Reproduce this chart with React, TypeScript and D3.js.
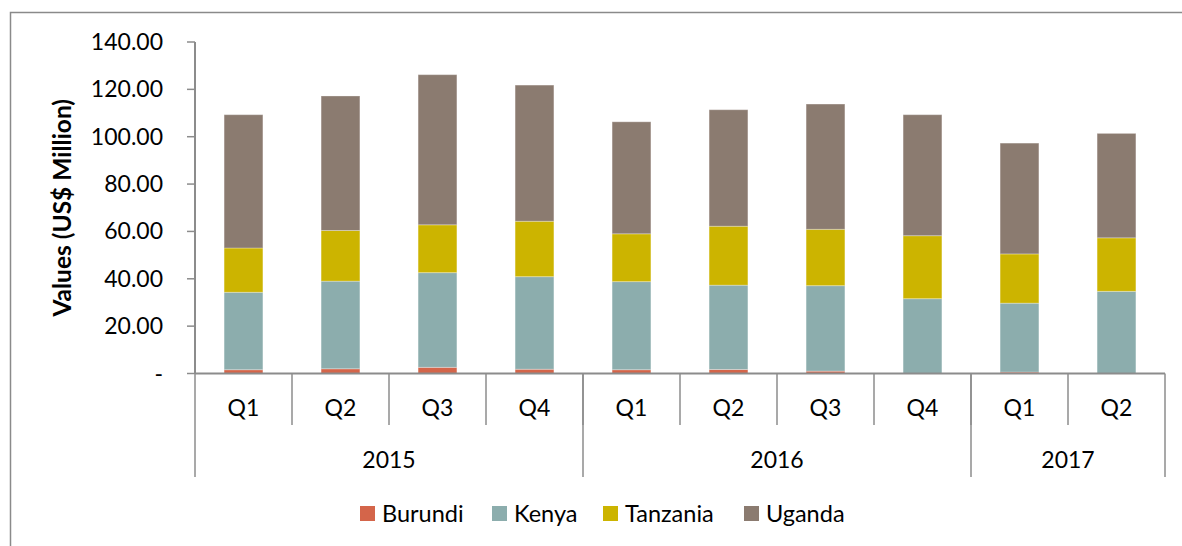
import React from "react";
import * as d3 from "d3";

const quarters = ["Q1", "Q2", "Q3", "Q4", "Q1", "Q2", "Q3", "Q4", "Q1", "Q2"];
const years = ["2015", "2016", "2017"];
const yearSpans = [4, 4, 2];
const seriesNames = ["Burundi", "Kenya", "Tanzania", "Uganda"];
const burundi = [1.6, 2.0, 2.6, 1.8, 1.6, 1.7, 1.0, 0.0, 0.6, 0.0];
const kenya = [32.7, 37.0, 40.0, 39.1, 37.2, 35.6, 36.1, 31.6, 29.1, 34.7];
const tanzania = [18.7, 21.4, 20.2, 23.4, 20.2, 24.9, 23.8, 26.6, 20.8, 22.6];
const uganda = [56.3, 56.8, 63.4, 57.5, 47.3, 49.2, 52.9, 51.1, 46.8, 44.1];
const colors = ["#D4654A", "#8CADAD", "#CCB400", "#8B7B70"];
const yTicks = [0, 20, 40, 60, 80, 100, 120, 140];

const W = 1182;
const H = 546;
const FONT = "Lato, 'Open Sans', sans-serif";

export default function App() {
  const left = 195;
  const right = 1165;
  const top = 42;
  const bottom = 373.5;
  const ids = quarters.map((_, i) => String(i));
  const x = d3.scaleBand<string>().domain(ids).range([left, right]).paddingInner(0.6).paddingOuter(0.3);
  const y = d3.scaleLinear().domain([0, 140]).range([bottom, top]);

  const rows = ids.map((id, i) => ({
    id,
    Burundi: burundi[i],
    Kenya: kenya[i],
    Tanzania: tanzania[i],
    Uganda: uganda[i],
  }));
  const stack = d3.stack<any>().keys(seriesNames)(rows);
  const step = x.step();
  const catStart = (i: number) => left + i * step;

  const boundaries: number[] = [0];
  yearSpans.reduce((acc, s) => {
    boundaries.push(acc + s);
    return acc + s;
  }, 0);

  const legendItems = [
    { name: "Burundi", x: 360 },
    { name: "Kenya", x: 492 },
    { name: "Tanzania", x: 603 },
    { name: "Uganda", x: 744 },
  ];

  const axisColor = "#8C8C8C";

  return (
    <div style={{ position: "absolute", left: 0, top: 0 }}>
      <svg width={W} height={H} style={{ display: "block", background: "#fff" }} fontFamily={FONT}>
        <rect x={10.5} y={12.5} width={1300} height={700} fill="none" stroke="#8A8A8A" strokeWidth={1.5} />
        <line x1={left} x2={left} y1={top} y2={bottom} stroke={axisColor} strokeWidth={2} />
        {yTicks.map((t) => (
          <g key={t}>
            <line x1={left - 8} x2={left} y1={y(t)} y2={y(t)} stroke={axisColor} strokeWidth={1.5} />
            <text x={163} y={y(t)} dy="0.35em" textAnchor="end" fontSize={23} fill="#000">
              {t === 0 ? "-" : d3.format(".2f")(t)}
            </text>
          </g>
        ))}
        <text
          transform={`translate(${62},${(top + bottom) / 2}) rotate(-90)`}
          textAnchor="middle"
          dy="0.35em"
          fontSize={24.5}
          fontWeight="bold"
          fill="#000"
        >
          Values (US$ Million)
        </text>
        {stack.map((s, si) => (
          <g key={seriesNames[si]} fill={colors[si]}>
            {s.map((d, i) => {
              const h = y(d[0]) - y(d[1]);
              if (h <= 0.01) return null;
              return (
                <rect
                  key={i}
                  x={x(ids[i])}
                  y={y(d[1])}
                  width={x.bandwidth()}
                  height={h}
                  stroke="rgba(255,255,255,0.3)"
                  strokeWidth={1}
                />
              );
            })}
          </g>
        ))}
        <line x1={left} x2={right} y1={bottom} y2={bottom} stroke={axisColor} strokeWidth={2} />
        {ids.map((id, i) =>
          i === 0 ? null : (
            <line key={id} x1={catStart(i)} x2={catStart(i)} y1={bottom} y2={425} stroke={axisColor} strokeWidth={1.5} />
          )
        )}
        {boundaries.map((b) => (
          <line key={"b" + b} x1={catStart(b)} x2={catStart(b)} y1={bottom} y2={477} stroke={axisColor} strokeWidth={1.5} />
        ))}
        {quarters.map((q, i) => (
          <text key={"q" + i} x={(x(ids[i]) as number) + x.bandwidth() / 2} y={408} dy="0.35em" textAnchor="middle" fontSize={23} fill="#000">
            {q}
          </text>
        ))}
        {years.map((yr, j) => (
          <text
            key={yr}
            x={(catStart(boundaries[j]) + catStart(boundaries[j + 1])) / 2}
            y={460}
            dy="0.35em"
            textAnchor="middle"
            fontSize={23}
            fill="#000"
          >
            {yr}
          </text>
        ))}
        {legendItems.map((it, i) => (
          <g key={it.name}>
            <rect x={it.x} y={506} width={15} height={15} fill={colors[i]} />
            <text x={it.x + 22} y={514} dy="0.35em" fontSize={23.5} fill="#000">
              {it.name}
            </text>
          </g>
        ))}
      </svg>
    </div>
  );
}
